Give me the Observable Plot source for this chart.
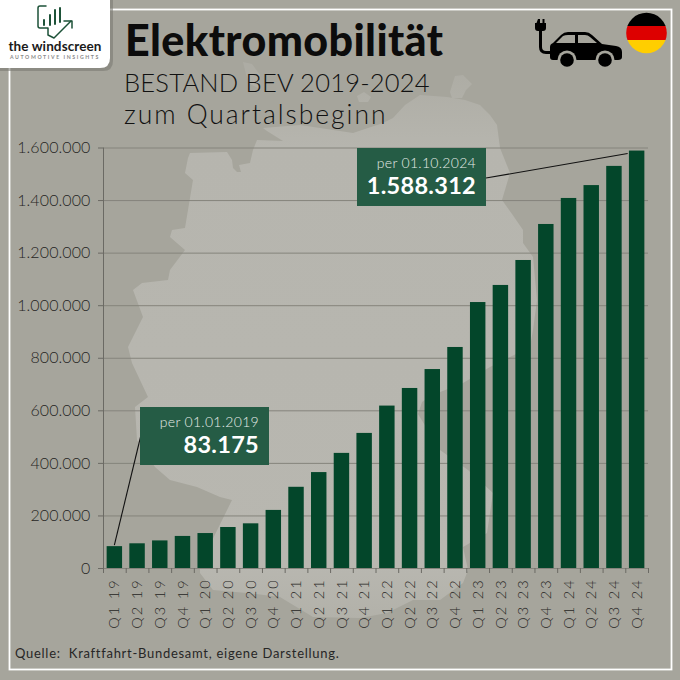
<!DOCTYPE html>
<html lang="de">
<head>
<meta charset="utf-8">
<script src="https://cdn.jsdelivr.net/npm/d3@7"></script>
<script src="https://cdn.jsdelivr.net/npm/@observablehq/plot@0.6"></script>
<style>
html,body{margin:0;padding:0;background:#a6a59c;}
#page{position:relative;width:680px;height:680px;overflow:hidden;background:#a6a59c;font-family:Lato,sans-serif;color:#111;}
#page svg.deco{position:absolute;left:0;top:0;}
#chart{position:absolute;left:0;top:0;}
.t{position:absolute;white-space:nowrap;margin:0;}
#title{left:125px;top:14px;font-size:43px;font-weight:900;line-height:52px;color:#0c0c0c;letter-spacing:.4px;}
#sub1{left:124px;top:66px;font-size:25.5px;line-height:32px;font-weight:300;letter-spacing:.22px;color:#111;}
#sub2{left:124px;top:98px;font-size:26.5px;line-height:32px;font-weight:300;letter-spacing:1.95px;color:#111;}
#src{left:15px;top:644px;font-size:13px;line-height:18px;letter-spacing:.72px;color:#262626;}
#logo1{left:0;width:110px;text-align:center;top:40px;font-size:13.5px;line-height:13px;font-weight:700;color:#1a1a1a;letter-spacing:.1px;}
#logo2{left:0;width:110px;text-align:center;top:54px;font-size:5.2px;line-height:7px;color:#8a8a8a;letter-spacing:1.6px;font-weight:700;}
g[aria-label="x-axis tick label"] text{letter-spacing:1.9px;font-weight:300;}
g[aria-label="y-axis tick label"] text{font-weight:300;letter-spacing:.1px;}
</style>
</head>
<body>
<div id="page">
<svg class="deco" width="680" height="680" viewBox="0 0 680 680" aria-hidden="true">
  <defs>
    <linearGradient id="mapFade" gradientUnits="userSpaceOnUse" x1="0" y1="70" x2="0" y2="620">
      <stop offset="0" stop-color="#adaca4"/>
      <stop offset="0.14" stop-color="#b6b5ae"/>
      <stop offset="0.9" stop-color="#b8b7b0"/>
      <stop offset="1" stop-color="#b2b1a9"/>
    </linearGradient>
  </defs>
  <g fill="url(#mapFade)">
    <path d="M188 158 L190 153 L227 152 L232 160 L233 168 L237 172 L241 172 L239 165 L250 163 L253 150 L257 140 L283 141 L267 131 L263 128 L300 125 L353 133 L368 128 L383 123 L393 118 L405 105 L420 95 L447 97 L465 100 L480 105 L490 115 L497 125 L500 148 L510 173 L502 200 L512 214 L523 230 L523 243 L533 257 L537 300 L533 330 L530 347 L490 367 L463 383 L430 396 L422 402 L418 414 L440 450 L468 470 L493 493 L487 533 L463 547 L468 570 L463 583 L440 600 L413 600 L387 613 L360 618 L313 617 L280 597 L247 593 L213 590 L200 573 L200 565 L232 500 L220 497 L197 487 L170 480 L155 467 L137 440 L135 407 L148 397 L132 363 L128 347 L143 317 L133 290 L142 283 L168 280 L170 270 L185 250 L170 237 L172 230 L185 228 L193 180 L185 173 Z"/>
    <path d="M243 62 L252 64 L260 75 L258 88 L250 84 L246 74 Z"/>
    <path d="M357 96 L364 92 L371 97 L368 102 L359 102 Z"/>
    <path d="M450 92 L455 76 L463 75 L472 84 L466 90 L462 98 L452 98 Z"/>
  </g>
  <rect x="9.5" y="9.5" width="662" height="660" fill="none" stroke="#ffffff" stroke-width="1.8"/>
  <!-- logo card -->
  <path d="M-4 -4 H112 V60 Q112 70 102 70 H-4 Z" fill="#77766f" opacity=".55" transform="translate(1,1)"/>
  <path d="M-4 -4 H110 V58 Q110 68 100 68 H-4 Z" fill="#ffffff"/>
  <g fill="none" stroke="#1d5238" stroke-width="1.5" stroke-linejoin="round" stroke-linecap="round">
    <path d="M46 6 H40 Q38 6 38 8 V26 Q38 28 40 28 H48 V35 L54 38 L71 21"/>
    <path d="M64 21 H72 V28"/>
    <path d="M44 20 V25 M50 15 V25 M55 10 V24 M60 8 V22" stroke-width="2"/>
  </g>
  <!-- plug and car -->
  <g fill="#000">
    <path d="M539 19 h2 v4 h2.5 v-4 h2 v4 h1.5 v5 q0 3 -3 3 h-1 v16 q0 4 4 4 h6 v3 h-6 q-7 0 -7 -7 v-16 h-1 q-3 0 -3 -3 v-5 h1.5 z" transform="translate(-1,0)"/>
    <path d="M550 57 L550 47 Q550 44 553 43 L561 35 Q564 32 568 32 L585 32 Q589 32 592 35 L602 44 L616 46 Q622 47 622 52 L622 57 Q622 60 618 60 L553 60 Q550 60 550 57 Z"/>
  </g>
  <g fill="#a6a59c">
    <path d="M556 43 L563 36 Q565 35 568 35 L575 35 L575 43 Z"/>
    <path d="M578 35 L585 35 Q588 35 590 37 L597 43 L578 43 Z"/>
    <circle cx="567" cy="60" r="9.5"/>
    <circle cx="605" cy="60" r="9.5"/>
  </g>
  <circle cx="567" cy="60" r="6.8" fill="#000"/>
  <circle cx="605" cy="60" r="6.8" fill="#000"/>
  <!-- flag -->
  <clipPath id="flagClip"><circle cx="646.5" cy="33" r="20.3"/></clipPath>
  <g clip-path="url(#flagClip)">
    <rect x="626" y="12" width="41" height="14" fill="#000"/>
    <rect x="626" y="26" width="41" height="14" fill="#dd0000"/>
    <rect x="626" y="40" width="41" height="14" fill="#ffce00"/>
  </g>
</svg>
<div id="chart"></div>
<p class="t" id="logo1">the windscreen</p>
<p class="t" id="logo2">AUTOMOTIVE INSIGHTS</p>
<h1 class="t" id="title">Elektromobilität</h1>
<p class="t" id="sub1">BESTAND BEV 2019-2024</p>
<p class="t" id="sub2">zum Quartalsbeginn</p>
<p class="t" id="src">Quelle:&nbsp; Kraftfahrt-Bundesamt, eigene Darstellung.</p>
</div>
<script>
const quarters = ["Q1 19","Q2 19","Q3 19","Q4 19","Q1 20","Q2 20","Q3 20","Q4 20","Q1 21","Q2 21","Q3 21","Q4 21","Q1 22","Q2 22","Q3 22","Q4 22","Q1 23","Q2 23","Q3 23","Q4 23","Q1 24","Q2 24","Q3 24","Q4 24"];
const stock = [83175,94000,105000,122000,133000,156000,170000,221000,309000,365000,438000,514000,618000,685000,757000,841000,1012000,1077000,1172000,1309000,1408000,1457000,1530000,1588312];
const yTicks = [0,200000,400000,600000,800000,1000000,1200000,1400000,1600000];
const rows = quarters.map((q,i)=>({q,v:stock[i]}));

const callouts = [
  {q:"Q1 19", v:83175, date:"per 01.01.2019", label:"83.175", box:[140,407,129,58], from:[141,435]},
  {q:"Q4 24", v:1588312, date:"per 01.10.2024", label:"1.588.312", box:[357,148,129,58], from:[486,178]}
];

const de = d3.formatLocale({decimal:",",thousands:".",grouping:[3],currency:["","€"]});
const fmt = de.format(",");
const STEP = (648-103)/24;
const ink = "#262624";

function calloutMark(index,{x,y}){
  const g = d3.create("svg:g");
  for (const c of callouts){
    const [bx,by,bw,bh] = c.box;
    const px = x(c.q)+x.bandwidth()/2;
    const py = y(c.v);
    const toRight = c.from[0] > 300;
    g.append("line").attr("x1",c.from[0]).attr("y1",c.from[1])
      .attr("x2",toRight?px-9:px).attr("y2",toRight?py+3:py-1)
      .attr("stroke","#111").attr("stroke-width",1.1);
    g.append("rect").attr("x",bx).attr("y",by).attr("width",bw).attr("height",bh).attr("fill","#255c45");
    g.append("text").attr("x",bx+119).attr("y",by+19.5).attr("text-anchor","end")
      .attr("font-size",14).attr("font-weight",300).attr("fill","#e6ece8").attr("letter-spacing",.3).text(c.date);
    g.append("text").attr("x",bx+119).attr("y",by+46).attr("text-anchor","end")
      .attr("font-size",23.5).attr("font-weight",700).attr("fill","#ffffff").attr("letter-spacing",.3).text(c.label);
  }
  return g.node();
}

const plot = Plot.plot({
  width:680, height:680,
  marginLeft:103, marginRight:32, marginTop:147.5, marginBottom:112,
  style:{background:"transparent", fontFamily:"Lato,sans-serif", overflow:"visible"},
  x:{type:"band", domain:quarters, paddingInner:0.32, paddingOuter:0.16, align:0.5, round:false, label:null},
  y:{domain:[0,1600000], label:null},
  marks:[
    Plot.ruleY(yTicks,{stroke:"#85847c",strokeWidth:1}),
    Plot.barY(rows,{x:"q",y:"v",fill:"#03462a"}),
    Plot.ruleX([quarters[0]],{dx:-STEP/2,stroke:"#6b6a64",strokeWidth:1}),
    Plot.axisY({ticks:yTicks,tickFormat:fmt,tickSize:5,tickPadding:8,stroke:"#6b6a64",fontSize:16,fill:ink,label:null,marginLeft:103}),
    Plot.axisX({ticks:quarters,text:null,tickSize:5,dx:-STEP/2,stroke:"#6b6a64",label:null}),
    Plot.axisX({ticks:quarters.slice(-1),text:null,tickSize:5,dx:STEP/2,stroke:"#6b6a64",label:null}),
    Plot.axisX({ticks:quarters,tickSize:0,tickPadding:10,tickRotate:-90,fontSize:14.5,fill:ink,label:null}),
    calloutMark
  ]
});
document.getElementById("chart").append(plot);
</script>
</body>
</html>
